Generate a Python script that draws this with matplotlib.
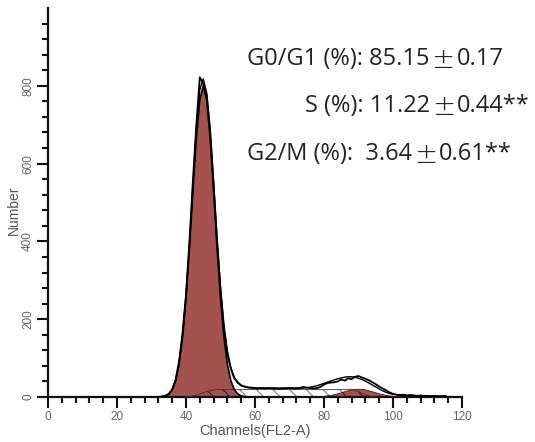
import numpy as np
import matplotlib
matplotlib.use("Agg")
import matplotlib.pyplot as plt
from matplotlib.ticker import MultipleLocator, FixedLocator

# raw histogram (channel, count)
data_ch = list(range(30, 117))
data_n = [0, 0, 0, 1, 3, 7, 18, 45, 92, 165,
          262, 400, 555, 700, 822, 805, 775, 680, 545, 400,
          275, 175, 110, 72, 48, 38, 30, 27, 25, 24,
          23, 22, 23, 22, 23, 22, 22, 21, 22, 22,
          23, 22, 22, 23, 26, 24, 23, 22, 23, 26,
          32, 36, 37, 38, 40, 45, 42, 48, 46, 52,
          54, 50, 47, 43, 38, 33, 27, 22, 17, 12,
          8, 6, 5, 6, 4, 5, 4, 3, 4, 3,
          3, 2, 3, 2, 2, 3, 0]

# model fit
fit_ch = list(range(33, 116))
fit_n = [1, 3, 8, 20, 44, 88, 160,
         262, 395, 545, 690, 790, 818, 782, 690, 555, 410,
         283, 185, 118, 76, 50, 36, 29, 26, 24, 23,
         23, 23, 23, 23, 23, 23, 23, 23, 23, 23,
         23, 23, 23, 23, 23, 24, 25, 27, 29, 32,
         35, 38, 41, 44, 47, 49, 51, 52, 52, 51,
         48, 45, 41, 36, 31, 26, 21, 16, 12, 9,
         7, 6, 5, 5, 4, 4, 4, 3, 3, 3,
         3, 2, 2, 2, 2, 0]

# G1 component
g1_ch = list(range(33, 58))
g1_n = [1, 3, 8, 19, 42, 84, 153, 254, 384, 529, 666, 764, 800,
        764, 666, 529, 384, 254, 153, 84, 42, 19, 8, 3, 1]

# S component
s_ch = list(range(40, 96))
s_n = [0, 1, 3, 5, 8, 11, 14, 16, 18, 19] + [19] * 39 + [17, 14, 10, 6, 3, 1, 0]

# G2 component
g2_ch = list(range(78, 103))
g2_n = [0.6, 1, 1.7, 2.7, 4.1, 6, 8.2, 10.8, 13.5, 16, 18.1, 19.5, 20,
        19.5, 18.1, 16, 13.5, 10.8, 8.2, 6, 4.1, 2.7, 1.7, 1, 0.6]

# phase percentages: label, mean, sd, x/y of line start (px)
stats = [("G0/G1 (%): 85.15", "0.17", 247, 59),
         ("S (%): 11.22", "0.44**", 305, 106),
         ("G2/M (%):  3.64", "0.61**", 247, 154)]

red = "#a5524f"
plt.rcParams["hatch.linewidth"] = 0.8

fig = plt.figure(figsize=(5.35, 4.42), dpi=100)
ax = fig.add_axes([48 / 535, 1 - 397 / 442, (462 - 48) / 535, (397 - 8) / 442])

# components
s_x = np.array(s_ch)
s_y = np.array(s_n, dtype=float)
ax.fill_between(s_x, 0, s_y, facecolor="white", edgecolor="#7078d0",
                hatch="\\\\", linewidth=0, zorder=1)
ax.fill_between(g2_ch, 0, g2_n, facecolor=red, edgecolor="none", zorder=2)
ax.fill_between(g1_ch, 0, g1_n, facecolor=red, edgecolor="none", zorder=2)

# overlap of S with red peaks -> dark hatching
g1_on_s = np.interp(s_x, g1_ch, g1_n, left=0, right=0)
g2_on_s = np.interp(s_x, g2_ch, g2_n, left=0, right=0)
ax.fill_between(s_x, 0, np.minimum(s_y, g1_on_s), facecolor="none",
                edgecolor="#3a1d1d", hatch="\\\\", linewidth=0, zorder=3)
ax.fill_between(s_x, 0, np.minimum(s_y, g2_on_s), facecolor="none",
                edgecolor="#3a1d1d", hatch="\\\\", linewidth=0, zorder=3)
ax.plot(s_x, s_y, color="#4a3030", lw=0.6, zorder=3)
ax.plot(g1_ch, g1_n, color="black", lw=1.2, zorder=4)
ax.plot(g2_ch, g2_n, color="#3a1d1d", lw=0.6, zorder=4)

# data and fit
ax.plot(fit_ch, fit_n, color="black", lw=1.0, zorder=5)
ax.plot(data_ch, data_n, color="black", lw=1.3, zorder=6)

ax.set_xlim(0, 120)
ax.set_ylim(0, 1000)
ax.xaxis.set_major_locator(MultipleLocator(20))
ax.xaxis.set_minor_locator(MultipleLocator(4))
ax.yaxis.set_major_locator(FixedLocator([0, 200, 400, 600, 800]))
ax.yaxis.set_minor_locator(FixedLocator(list(range(0, 1000, 40))))

for side in ["top", "right"]:
    ax.spines[side].set_visible(False)
for side in ["left", "bottom"]:
    ax.spines[side].set_linewidth(1.6)
    ax.spines[side].set_color("#111111")

ax.tick_params(which="major", length=8, width=1.5, color="#111111",
               labelsize=8.5, labelcolor="#666666", pad=2)
ax.tick_params(which="minor", length=4.5, width=1.5, color="#111111")
for lab in ax.get_yticklabels():
    lab.set_rotation(90)
    lab.set_va("center")
    lab.set_family("Liberation Sans")
for lab in ax.get_xticklabels():
    lab.set_family("Liberation Sans")
    lab.set_fontsize(8.5)

ax.set_xlabel("Channels(FL2-A)", fontsize=10.5, color="#555555",
              family="Liberation Sans", labelpad=1)
ax.set_ylabel("Number", fontsize=10, color="#555555",
              family="Liberation Sans")
ax.yaxis.set_label_coords(-0.066, 0.48)

# stats text, built from pieces so the wide +- sign sits between them
renderer = fig.canvas.get_renderer()
for head, tail, px, py in stats:
    y = 1 - py / 442
    t1 = fig.text(px / 535, y, head, fontsize=17, color="#222222",
                  family="Open Sans", va="center", ha="left")
    x_end = t1.get_window_extent(renderer).x1
    pm = fig.text((x_end + 2) / 535, y - 1 / 442, "\u00b1", fontsize=20,
                  color="#222222", family="DejaVu Sans", va="center",
                  ha="left", fontweight="light")
    x_end = pm.get_window_extent(renderer).x1
    fig.text((x_end + 2) / 535, y, tail, fontsize=17, color="#222222",
             family="Open Sans", va="center", ha="left")

fig.savefig("out.png", dpi=100)
